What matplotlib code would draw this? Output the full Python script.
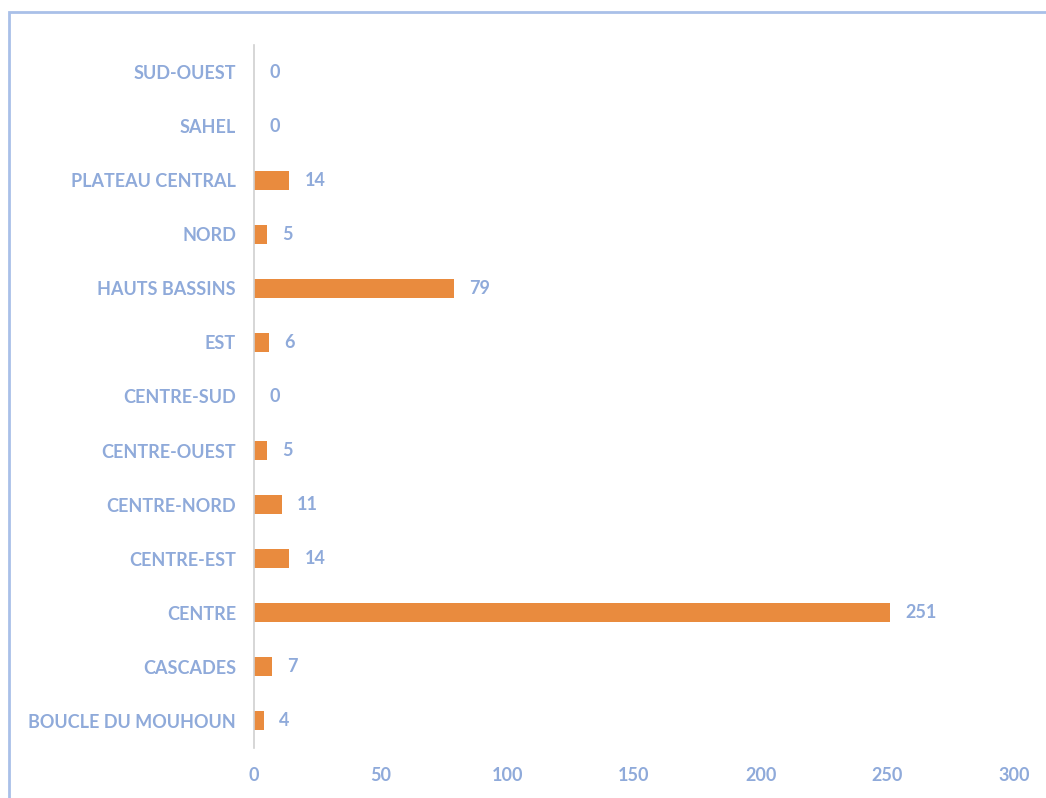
import matplotlib
matplotlib.use('Agg')
import matplotlib.pyplot as plt
from matplotlib.patches import Rectangle

# regions, listed bottom to top as in the chart
regions = ['BOUCLE DU MOUHOUN', 'CASCADES', 'CENTRE', 'CENTRE-EST', 'CENTRE-NORD',
           'CENTRE-OUEST', 'CENTRE-SUD', 'EST', 'HAUTS BASSINS', 'NORD',
           'PLATEAU CENTRAL', 'SAHEL', 'SUD-OUEST']
counts = [4, 7, 251, 14, 11, 5, 0, 6, 79, 5, 14, 0, 0]
xticks = [0, 50, 100, 150, 200, 250, 300]

text_col = '#8FAADA'
bar_col = '#E98B3E'

plt.rcParams['font.family'] = ['Lato', 'DejaVu Sans']
plt.rcParams['font.weight'] = 'bold'

fig = plt.figure(figsize=(10.46, 7.98), dpi=100)
ax = fig.add_axes([0.2428, 0.0627, 0.7266, 0.8809])

y = list(range(len(regions)))
ax.barh(y, counts, height=0.35, color=bar_col)
for yi, c in zip(y, counts):
    ax.text(c + 6, yi, str(c), va='center', ha='left', color=text_col,
            fontsize=13, fontweight='bold')

ax.set_yticks(y)
ax.set_yticklabels(regions)
ax.set_xticks(xticks)
ax.set_xlim(0, 300)
ax.set_ylim(-0.5, len(regions) - 0.5)
ax.tick_params(axis='both', length=0, colors=text_col, labelsize=13)
ax.tick_params(axis='y', pad=13)
ax.tick_params(axis='x', pad=14)
for s in ['top', 'right', 'bottom']:
    ax.spines[s].set_visible(False)
ax.spines['left'].set_color('#D0D0D0')
ax.spines['left'].set_linewidth(1.2)

# outer chart frame (cropped at right and bottom)
frame = Rectangle((9 / 1046, -0.05), 1.2, 1 - 12 / 798 + 0.05, transform=fig.transFigure,
                  fill=False, edgecolor='#A9C0E8', linewidth=2)
fig.patches.append(frame)

fig.savefig('out.png', dpi=100)
